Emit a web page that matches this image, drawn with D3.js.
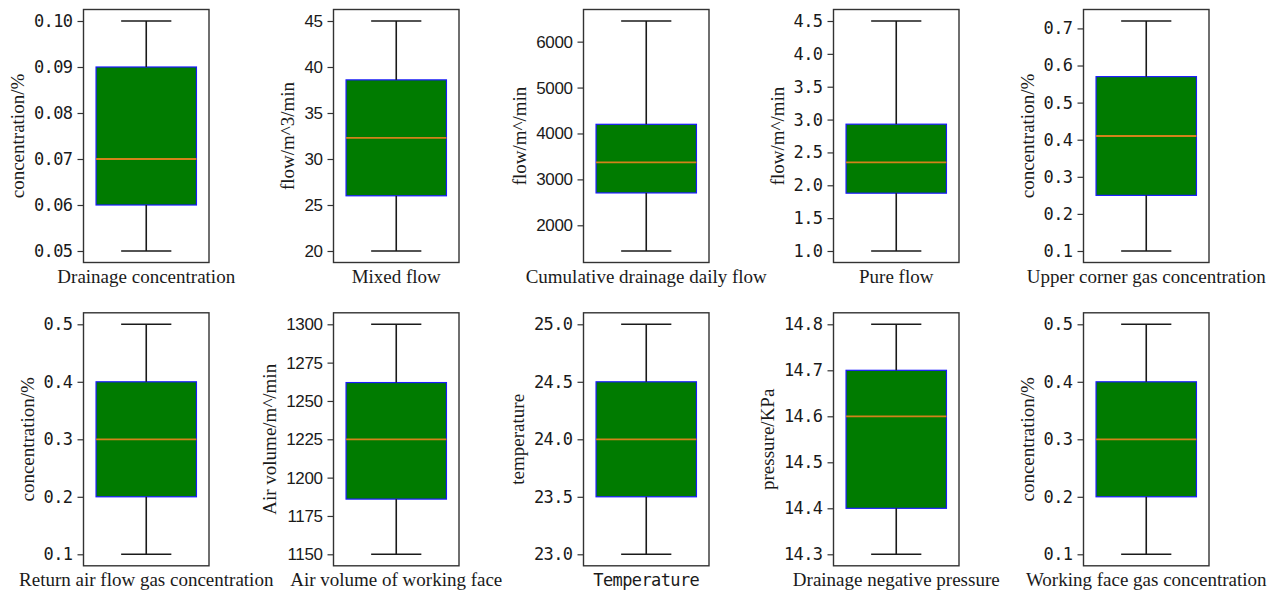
<!DOCTYPE html>
<html><head><meta charset="utf-8">
<script src="https://cdn.jsdelivr.net/npm/d3@7/dist/d3.min.js"></script>
<style>body{margin:0;background:#fff}svg{display:block}</style>
</head><body><svg id="c" width="1283" height="593"></svg>
<script>
const categories = ["Drainage concentration","Mixed flow","Cumulative drainage daily flow","Pure flow","Upper corner gas concentration","Return air flow gas concentration","Air volume of working face","Temperature","Drainage negative pressure","Working face gas concentration"];
const yLabels = ["concentration/%","flow/m^3/min","flow/m^/min","flow/m^/min","concentration/%","concentration/%","Air volume/m^/min","temperature","pressure/KPa","concentration/%"];
const whiskerLow  = [0.05, 20,   1440, 1.0,  0.10, 0.1, 1150, 23.0, 14.3, 0.1];
const q1          = [0.06, 26.0, 2705, 1.88, 0.25, 0.2, 1186, 23.5, 14.4, 0.2];
const median      = [0.07, 32.3, 3370, 2.35, 0.41, 0.3, 1225, 24.0, 14.6, 0.3];
const q3          = [0.09, 38.6, 4200, 2.93, 0.57, 0.4, 1262, 24.5, 14.7, 0.4];
const whiskerHigh = [0.10, 45,   6450, 4.5,  0.72, 0.5, 1300, 25.0, 14.8, 0.5];
const tickValues = [
  [0.05,0.06,0.07,0.08,0.09,0.10],
  [20,25,30,35,40,45],
  [2000,3000,4000,5000,6000],
  [1.0,1.5,2.0,2.5,3.0,3.5,4.0,4.5],
  [0.1,0.2,0.3,0.4,0.5,0.6,0.7],
  [0.1,0.2,0.3,0.4,0.5],
  [1150,1175,1200,1225,1250,1275,1300],
  [23.0,23.5,24.0,24.5,25.0],
  [14.3,14.4,14.5,14.6,14.7,14.8],
  [0.1,0.2,0.3,0.4,0.5]
];
const tickLabels = [
  ["0.05","0.06","0.07","0.08","0.09","0.10"],
  ["20","25","30","35","40","45"],
  ["2000","3000","4000","5000","6000"],
  ["1.0","1.5","2.0","2.5","3.0","3.5","4.0","4.5"],
  ["0.1","0.2","0.3","0.4","0.5","0.6","0.7"],
  ["0.1","0.2","0.3","0.4","0.5"],
  ["1150","1175","1200","1225","1250","1275","1300"],
  ["23.0","23.5","24.0","24.5","25.0"],
  ["14.3","14.4","14.5","14.6","14.7","14.8"],
  ["0.1","0.2","0.3","0.4","0.5"]
];

const MONO = "'DejaVu Sans Mono', monospace";
const SANS = "'Liberation Sans', Arial, sans-serif";
const SERIF = "'Liberation Serif', 'Times New Roman', serif";
const svg = d3.select("#c");
const left0 = 83.5, colStep = 250, frameW = 125.5, frameH = 253;
const rowTops = [9.5, 312.8];

categories.forEach((cat, i) => {
  const col = i % 5, row = Math.floor(i / 5);
  const fx = left0 + col * colStep, fy = rowTops[row];
  const lo = whiskerLow[i], hi = whiskerHigh[i], pad = (hi - lo) * 0.05;
  const y = d3.scaleLinear().domain([lo - pad, hi + pad]).range([fy + frameH, fy]);
  const x = d3.scaleLinear().domain([0.5, 1.5]).range([fx, fx + frameW]);
  const g = svg.append("g");
  const isMono = tickLabels[i].some(s => s.includes("."));

  // box
  g.append("rect")
    .attr("x", x(0.6)).attr("width", x(1.4) - x(0.6))
    .attr("y", y(q3[i])).attr("height", y(q1[i]) - y(q3[i]))
    .attr("fill", "#007b00").attr("stroke", "#1a1aff").attr("stroke-width", 1.2);
  // whiskers
  g.append("line").attr("x1", x(1)).attr("x2", x(1)).attr("y1", y(q3[i])).attr("y2", y(hi))
    .attr("stroke", "#1a1a1a").attr("stroke-width", 1.6);
  g.append("line").attr("x1", x(1)).attr("x2", x(1)).attr("y1", y(q1[i])).attr("y2", y(lo))
    .attr("stroke", "#1a1a1a").attr("stroke-width", 1.6);
  // caps
  [lo, hi].forEach(v => g.append("line").attr("x1", x(0.8)).attr("x2", x(1.2))
    .attr("y1", y(v)).attr("y2", y(v)).attr("stroke", "#1a1a1a").attr("stroke-width", 1.6));
  // median
  g.append("line").attr("x1", x(0.6)).attr("x2", x(1.4)).attr("y1", y(median[i])).attr("y2", y(median[i]))
    .attr("stroke", "#d3821a").attr("stroke-width", 1.8);
  // frame
  g.append("rect").attr("x", fx).attr("y", fy).attr("width", frameW).attr("height", frameH)
    .attr("fill", "none").attr("stroke", "#333").attr("stroke-width", 1.4);

  // axis
  const ax = g.append("g").attr("transform", `translate(${fx},0)`)
    .call(d3.axisLeft(y).tickValues(tickValues[i]).tickFormat((d, j) => tickLabels[i][j])
      .tickSize(6).tickPadding(5));
  ax.select(".domain").remove();
  ax.selectAll(".tick line").attr("stroke", "#333").attr("stroke-width", 1.2);
  ax.selectAll(".tick text").attr("fill", "#1a1a1a")
    .style("font-family", isMono ? MONO : SANS)
    .style("font-size", isMono ? "17px" : "17px")
    .style("letter-spacing", isMono ? "-0.6px" : "-0.4px");
  const bb = ax.node().getBBox();

  // y label
  g.append("text")
    .attr("transform", `translate(${fx + bb.x - 10},${fy + frameH / 2}) rotate(-90)`)
    .attr("text-anchor", "middle").attr("fill", "#1a1a1a")
    .style("font-family", SERIF).style("font-size", "19px")
    .text(yLabels[i]);

  // x label
  const monoX = cat === "Temperature";
  g.append("text")
    .attr("x", x(1)).attr("y", fy + frameH + 20)
    .attr("text-anchor", "middle").attr("fill", "#1a1a1a")
    .style("font-family", monoX ? MONO : SERIF).style("font-size", monoX ? "17px" : "19px")
    .style("letter-spacing", monoX ? "-0.6px" : "0px")
    .text(cat);
});
</script>
</body></html>
